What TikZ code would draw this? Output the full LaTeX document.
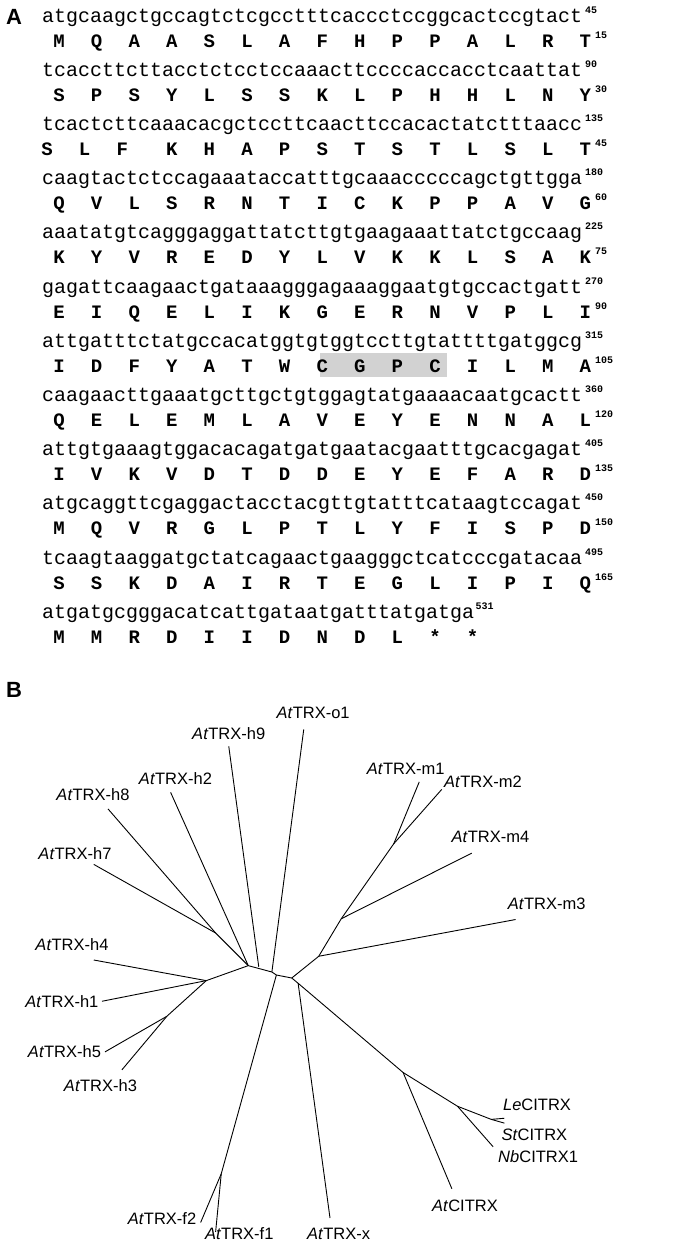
\documentclass[tikz,border=0pt]{standalone}
\usepackage{fontspec}
\setmainfont{Liberation Sans}
\newfontfamily\seqfont{Liberation Mono}
\begin{document}
\begin{tikzpicture}[x=1pt,y=-1pt,
  nuc/.style={anchor=base west,inner sep=0pt,font=\seqfont\fontsize{20}{20}\selectfont},
  aa/.style={anchor=base,inner sep=0pt,font=\seqfont\bfseries\fontsize{19}{19}\selectfont},
  sup/.style={anchor=base west,inner sep=0pt,font=\seqfont\bfseries\fontsize{10}{10}\selectfont},
  panel/.style={anchor=center,inner sep=0pt,font=\bfseries\fontsize{22}{22}\selectfont},
  leaf/.style={inner sep=0pt,font=\fontsize{16.5}{16.5}\selectfont},
  br/.style={line width=0.9pt}]
\useasboundingbox (0,0) rectangle (685,1248);
\node[panel] (pA) at (14,17) {A};
\node[panel] (pB) at (14,690) {B};
\fill[gray!35] (320,353) rectangle (447,377);
\foreach \r/\s/\n in {1/atgcaagctgccagtctcgcctttcaccctccggcactccgtact/45,
 2/tcaccttcttacctctcctccaaacttccccaccacctcaattat/90,
 3/tcactcttcaaacacgctccttcaacttccacactatctttaacc/135,
 4/caagtactctccagaaataccatttgcaaacccccagctgttgga/180,
 5/aaatatgtcagggaggattatcttgtgaagaaattatctgccaag/225,
 6/gagattcaagaactgataaagggagaaaggaatgtgccactgatt/270,
 7/attgatttctatgccacatggtgtggtccttgtattttgatggcg/315,
 8/caagaacttgaaatgcttgctgtggagtatgaaaacaatgcactt/360,
 9/attgtgaaagtggacacagatgatgaatacgaatttgcacgagat/405,
 10/atgcaggttcgaggactacctacgttgtatttcataagtccagat/450,
 11/tcaagtaaggatgctatcagaactgaagggctcatcccgatacaa/495}{
  \pgfmathsetmacro\yy{22+54.2*(\r-1)}
  \node[nuc] (n\r) at (42,\yy) {\s};
  \node[sup] (ns\r) at (585,\yy-9) {\n};
}
\node[nuc] (n12) at (42,{22+54.2*11}) {atgatgcgggacatcattgataatgatttatgatga};
\node[sup] (ns12) at ([xshift=1pt,yshift=9pt]n12.base east) {531};
\foreach \r/\L/\n in {1/{M,Q,A,A,S,L,A,F,H,P,P,A,L,R,T}/15,
 2/{S,P,S,Y,L,S,S,K,L,P,H,H,L,N,Y}/30,
 3/{S,L,F,K,H,A,P,S,T,S,T,L,S,L,T}/45,
 4/{Q,V,L,S,R,N,T,I,C,K,P,P,A,V,G}/60,
 5/{K,Y,V,R,E,D,Y,L,V,K,K,L,S,A,K}/75,
 6/{E,I,Q,E,L,I,K,G,E,R,N,V,P,L,I}/90,
 7/{I,D,F,Y,A,T,W,C,G,P,C,I,L,M,A}/105,
 8/{Q,E,L,E,M,L,A,V,E,Y,E,N,N,A,L}/120,
 9/{I,V,K,V,D,T,D,D,E,Y,E,F,A,R,D}/135,
 10/{M,Q,V,R,G,L,P,T,L,Y,F,I,S,P,D}/150,
 11/{S,S,K,D,A,I,R,T,E,G,L,I,P,I,Q}/165,
 12/{M,M,R,D,I,I,D,N,D,L,*,*}/}{
  \pgfmathsetmacro\yy{47+54.2*(\r-1)}
  \foreach \a [count=\i from 0] in \L {
    \pgfmathsetmacro\xx{59+37.6*\i-((\r==3)&&(\i<3))*12}
    \node[aa] (a\r-\i) at (\xx,\yy) {\a};
  }
  \node[sup] (as\r) at (595,\yy-9) {\n};
}
% tree
\begin{scope}[yshift=-660pt,x=0.375pt,y=-0.375pt]
\coordinate (L1) at (662,815);
\coordinate (C1) at (725,832);
\coordinate (C2) at (737,840);
\coordinate (R1) at (778,848);
\coordinate (R2) at (795,862);
\coordinate (H0) at (550,855);
\coordinate (H5) at (445,950);
\coordinate (H78) at (575,728);
\coordinate (M0) at (850,790);
\coordinate (M1) at (910,690);
\coordinate (M2) at (1050,490);
\coordinate (Ci) at (1075,1100);
\coordinate (Ci2) at (1220,1190);
\coordinate (Ci3) at (1310,1225);
\coordinate (F0) at (590,1370);
\coordinate (eo1) at (810,185); \coordinate (eh9) at (610,230);
\coordinate (eh2) at (455,353); \coordinate (eh8) at (288,397);
\coordinate (eh7) at (250,545); \coordinate (eh4) at (250,800);
\coordinate (eh1) at (272,910); \coordinate (eh5) at (280,1045);
\coordinate (eh3) at (325,1093); \coordinate (em1) at (1118,325);
\coordinate (em2) at (1178,345); \coordinate (em4) at (1258,515);
\coordinate (em3) at (1375,692); \coordinate (ele) at (1345,1222);
\coordinate (est) at (1345,1235); \coordinate (enb) at (1315,1298);
\coordinate (eci) at (1205,1410); \coordinate (ef2) at (535,1500);
\coordinate (ef1) at (575,1525); \coordinate (ex) at (880,1488);
\draw[br] (H0) -- (L1) -- (C1) -- (C2) -- (R1) -- (R2);
\draw[br] (L1) -- (H78) -- (eh8);
\draw[br] (H78) -- (eh7);
\draw[br] (L1) -- (eh2);
\draw[br] (690,818) -- (eh9);
\draw[br] (C1) -- (eo1);
\draw[br] (H0) -- (eh4); \draw[br] (H0) -- (eh1);
\draw[br] (H0) -- (H5) -- (eh5); \draw[br] (H5) -- (eh3);
\draw[br] (R1) -- (M0) -- (em3);
\draw[br] (M0) -- (M1) -- (em4);
\draw[br] (M1) -- (M2) -- (em1); \draw[br] (M2) -- (em2);
\draw[br] (R2) -- (Ci) -- (eci);
\draw[br] (Ci) -- (Ci2) -- (enb);
\draw[br] (Ci2) -- (Ci3) -- (ele); \draw[br] (Ci3) -- (est);
\draw[br] (R2) -- (ex);
\draw[br] (C2) -- (F0) -- (ef2); \draw[br] (F0) -- (ef1);
\node[leaf] (to1) at (835,140) {\textit{At}TRX-o1};
\node[leaf] (th9) at (610,195) {\textit{At}TRX-h9};
\node[leaf] (th2) at (468,315) {\textit{At}TRX-h2};
\node[leaf] (th8) at (248,358) {\textit{At}TRX-h8};
\node[leaf] (th7) at (200,515) {\textit{At}TRX-h7};
\node[leaf] (th4) at (192,760) {\textit{At}TRX-h4};
\node[leaf] (th1) at (165,910) {\textit{At}TRX-h1};
\node[leaf] (th5) at (172,1045) {\textit{At}TRX-h5};
\node[leaf] (th3) at (268,1135) {\textit{At}TRX-h3};
\node[leaf] (tm1) at (1082,290) {\textit{At}TRX-m1};
\node[leaf] (tm2) at (1288,325) {\textit{At}TRX-m2};
\node[leaf] (tm4) at (1308,473) {\textit{At}TRX-m4};
\node[leaf] (tm3) at (1458,650) {\textit{At}TRX-m3};
\node[leaf] (tle) at (1432,1185) {\textit{Le}CITRX};
\node[leaf] (tst) at (1425,1265) {\textit{St}CITRX};
\node[leaf] (tnb) at (1435,1325) {\textit{Nb}CITRX1};
\node[leaf] (tci) at (1240,1455) {\textit{At}CITRX};
\node[leaf] (tf2) at (432,1490) {\textit{At}TRX-f2};
\node[leaf] (tf1) at (638,1530) {\textit{At}TRX-f1};
\node[leaf] (tx) at (903,1530) {\textit{At}TRX-x};
\end{scope}
\end{tikzpicture}
\end{document}
